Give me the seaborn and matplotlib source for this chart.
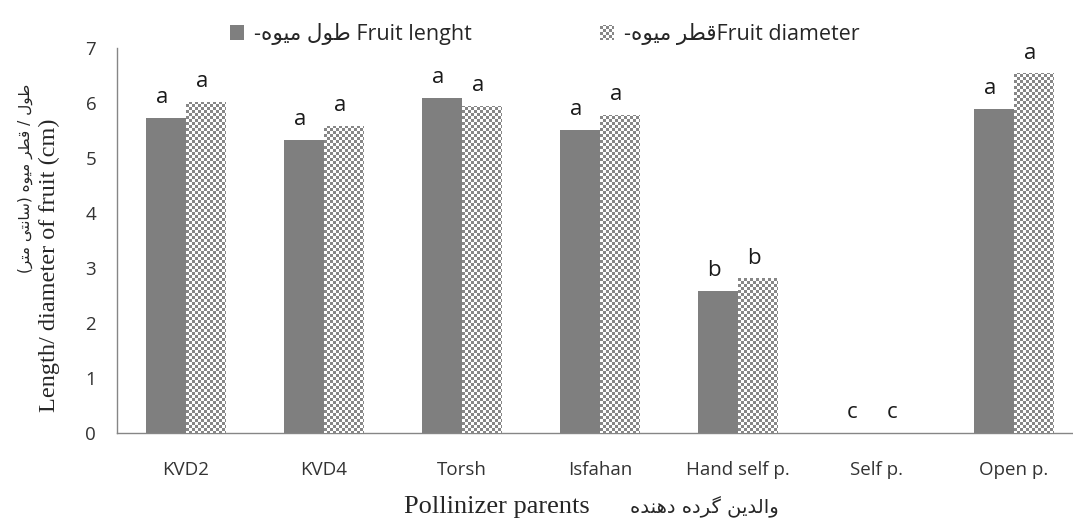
import numpy as np
import pandas as pd
import matplotlib
matplotlib.use('Agg')
import matplotlib.pyplot as plt
import seaborn as sns
from matplotlib.patches import Patch

# data
parents = ['KVD2', 'KVD4', 'Torsh', 'Isfahan', 'Hand self p.', 'Self p.', 'Open p.']
fruit_length = [5.73, 5.33, 6.10, 5.51, 2.59, 0.0, 5.89]
fruit_diameter = [6.02, 5.59, 5.95, 5.79, 2.81, 0.0, 6.54]
length_letters = ['a', 'a', 'a', 'a', 'b', 'c', 'a']
diameter_letters = ['a', 'a', 'a', 'a', 'b', 'c', 'a']
y_ticks = [0, 1, 2, 3, 4, 5, 6, 7]

# minimal persian shaping (presentation forms, visual order)
FORMS = {
    'ا': ('\uFE8D', '\uFE8E', None, None),
    'ت': ('\uFE95', '\uFE96', '\uFE97', '\uFE98'),
    'د': ('\uFEA9', '\uFEAA', None, None),
    'ر': ('\uFEAD', '\uFEAE', None, None),
    'س': ('\uFEB1', '\uFEB2', '\uFEB3', '\uFEB4'),
    'ط': ('\uFEC1', '\uFEC2', '\uFEC3', '\uFEC4'),
    'ق': ('\uFED5', '\uFED6', '\uFED7', '\uFED8'),
    'ل': ('\uFEDD', '\uFEDE', '\uFEDF', '\uFEE0'),
    'م': ('\uFEE1', '\uFEE2', '\uFEE3', '\uFEE4'),
    'ن': ('\uFEE5', '\uFEE6', '\uFEE7', '\uFEE8'),
    'ه': ('\uFEE9', '\uFEEA', '\uFEEB', '\uFEEC'),
    'و': ('\uFEED', '\uFEEE', None, None),
    'ی': ('\uFBFC', '\uFBFD', '\uFBFE', '\uFBFF'),
    'گ': ('\uFB92', '\uFB93', '\uFB94', '\uFB95'),
}


def shape_fa(text):
    out = []
    for i, ch in enumerate(text):
        if ch not in FORMS:
            out.append(ch)
            continue
        prev = text[i - 1] if i > 0 else ''
        nxt = text[i + 1] if i + 1 < len(text) else ''
        join_prev = prev in FORMS and FORMS[prev][2] is not None
        join_next = FORMS[ch][2] is not None and nxt in FORMS
        iso, fin, ini, med = FORMS[ch]
        if join_prev and join_next:
            out.append(med)
        elif join_prev:
            out.append(fin)
        elif join_next:
            out.append(ini)
        else:
            out.append(iso)
    vis = ''.join(reversed(out))
    return vis.translate(str.maketrans('()', ')('))


def checker(w, h, x0, y0, size=3, gray=0.53):
    yy, xx = np.mgrid[0:h, 0:w]
    mask = (((x0 + xx) // size + (y0 + h - 1 - yy) // size) % 2) == 0
    arr = np.ones((h, w, 3))
    arr[mask] = gray
    return arr


solid = '#7f7f7f'
serif = ['Liberation Serif', 'DejaVu Sans']

sns.set_style('white')
plt.rcParams['font.family'] = ['Open Sans', 'DejaVu Sans']

W, H = 1073, 521
fig = plt.figure(figsize=(W / 100, H / 100), dpi=100)
# category step is 138 px, the right end runs past the picture edge
ax = fig.add_axes([117 / W, 88 / H, 7 * 138 / W, 385 / H])

df = pd.DataFrame({
    'parent': parents * 2,
    'trait': ['length'] * len(parents) + ['diameter'] * len(parents),
    'value': fruit_length + fruit_diameter,
})
sns.barplot(data=df, x='parent', y='value', hue='trait', palette=[solid, 'white'],
            width=0.58, saturation=1, linewidth=0, legend=False, ax=ax)

ax.set_xlim(-0.5, len(parents) - 0.5)
ax.set_ylim(0, 7)
ax.set_yticks(y_ticks)
ax.set_xlabel('')
ax.set_ylabel('')
sns.despine(ax=ax, top=True, right=True)
for s in ['left', 'bottom']:
    ax.spines[s].set_color('#868686')
    ax.spines[s].set_linewidth(1)

ax.set_xticks(np.arange(len(parents)))
ax.set_xticklabels(parents)
ax.set_xticks(np.arange(len(parents) + 1) - 0.5, minor=True)
ax.tick_params(axis='x', which='major', length=0, pad=20, labelsize=13.5, labelcolor='#333333')
ax.tick_params(axis='x', which='minor', length=7, width=1, color='#868686', direction='out')
ax.tick_params(axis='y', length=6, width=1, color='#868686', direction='out', pad=9,
               labelsize=13.5, labelcolor='#333333')

# significance letters
for cont, letters in zip(ax.containers, [length_letters, diameter_letters]):
    for bar, lt in zip(cont, letters):
        ax.annotate(lt, (bar.get_x() + bar.get_width() / 2, bar.get_height()),
                    xytext=(-3, 7), textcoords='offset points', ha='center', va='bottom',
                    fontsize=16, color='#1a1a1a')

# axis titles
fig.text(49 / W, 1 - 265 / H, 'Length/ diameter of fruit (cm)', rotation=90,
         ha='center', va='center', fontsize=17.5, family=serif)
fig.text(25 / W, 1 - 178 / H, shape_fa('طول / قطر میوه (سانتی متر)'), rotation=90,
         ha='center', va='center', fontsize=11, family=['DejaVu Sans'])
fig.text(590 / W, 8 / H, 'Pollinizer parents', ha='right', va='baseline',
         fontsize=19, family=serif)
fig.text(630 / W, 8 / H, shape_fa('والدین گرده دهنده'), ha='left', va='baseline',
         fontsize=14, family=['DejaVu Sans'])

# legend, one entry per box so each key sits where the reference has it
labels = ['-' + shape_fa('طول میوه') + ' Fruit lenght',
          '-' + shape_fa('قطر میوه') + 'Fruit diameter']
keys = [Patch(facecolor=solid, edgecolor='none'), Patch(facecolor='white', edgecolor='none')]
legs = []
for key, lab, x_left in zip(keys, labels, [230, 600]):
    lg = fig.legend(handles=[key], labels=[lab], loc='center left',
                    bbox_to_anchor=(x_left / W, 1 - 34 / H), frameon=False,
                    borderpad=0, borderaxespad=0, handlelength=0.65, handleheight=0.65,
                    handletextpad=0.45, fontsize=15.5)
    legs.append(lg)

# checker pattern on the diameter bars and its legend key
fig.canvas.draw()
targets = [b for b, v in zip(ax.containers[1], fruit_diameter) if v > 0]
targets.append(legs[1].legend_handles[0])
for art in targets:
    bb = art.get_window_extent()
    x0, x1 = int(round(bb.x0)), int(round(bb.x1))
    y0, y1 = int(round(bb.y0)), int(round(bb.y1))
    fig.figimage(checker(x1 - x0, y1 - y0, x0, y0), xo=x0, yo=y0, zorder=10)

fig.savefig('out.png', dpi=100)
